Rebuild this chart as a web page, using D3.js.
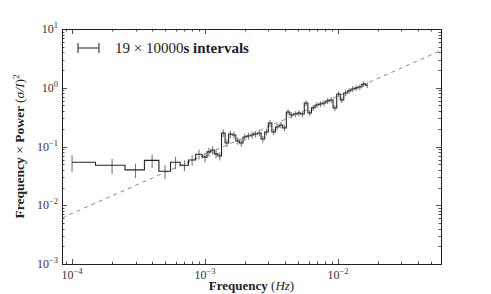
<!DOCTYPE html>
<html>
<head>
<meta charset="utf-8">
<script src="https://cdn.jsdelivr.net/npm/d3@7"></script>
<style>
  body { margin: 0; background: #fff; }
  text { font-family: "Liberation Serif", "DejaVu Serif", serif; fill: #222; }
</style>
</head>
<body>
<div id="svgContainer"></div>
<script>
//Globals
var width = 491;
var height = 294;
var plotLeft = 62, plotRight = 441, plotTop = 29, plotBottom = 264;

// power spectrum bins (Hz) and frequency x power values
var freq = [1e-4, 2e-4, 3e-4, 4e-4, 5e-4, 6e-4, 7e-4, 8e-4, 9e-4, 1e-3,
    1.07e-3, 1.14e-3, 1.21e-3, 1.29e-3, 1.37e-3, 1.46e-3, 1.55e-3, 1.65e-3, 1.76e-3, 1.87e-3,
    1.99e-3, 2.12e-3, 2.26e-3, 2.40e-3, 2.56e-3, 2.72e-3, 2.90e-3, 3.08e-3, 3.28e-3, 3.49e-3,
    3.72e-3, 3.96e-3, 4.21e-3, 4.48e-3, 4.77e-3, 5.08e-3, 5.40e-3, 5.75e-3, 6.12e-3, 6.51e-3,
    6.93e-3, 7.38e-3, 7.85e-3, 8.36e-3, 8.89e-3, 9.47e-3, 1.01e-2, 1.07e-2, 1.14e-2, 1.21e-2,
    1.29e-2, 1.37e-2, 1.46e-2, 1.56e-2, 1.66e-2];
var power = [0.054, 0.048, 0.040, 0.058, 0.038, 0.054, 0.048, 0.059, 0.074, 0.066,
    0.081, 0.087, 0.075, 0.069, 0.170, 0.115, 0.163, 0.157, 0.124, 0.115,
    0.145, 0.151, 0.157, 0.163, 0.170, 0.134, 0.177, 0.251, 0.177, 0.215,
    0.232, 0.206, 0.386, 0.343, 0.357, 0.371, 0.357, 0.550, 0.371, 0.452,
    0.508, 0.529, 0.550, 0.595, 0.618, 0.452, 0.783, 0.618, 0.815, 0.881,
    0.952, 0.990, 1.03, 1.16, 1.11];
var powerErr = [0.017, 0.014, 0.011, 0.015, 0.010, 0.013, 0.010, 0.012, 0.014, 0.012,
    0.014, 0.014, 0.012, 0.011, 0.026, 0.017, 0.024, 0.022, 0.017, 0.016,
    0.020, 0.020, 0.021, 0.021, 0.022, 0.017, 0.022, 0.031, 0.022, 0.026,
    0.028, 0.025, 0.046, 0.040, 0.042, 0.043, 0.041, 0.063, 0.042, 0.051,
    0.057, 0.059, 0.061, 0.066, 0.068, 0.050, 0.086, 0.068, 0.089, 0.096,
    0.104, 0.108, 0.112, 0.126, 0.120];

// reference power law (dashed line) end points
var modelFreq = [8.4e-5, 0.0595];
var modelPower = [0.0061, 4.3];

var xMajor = [1e-4, 1e-3, 1e-2];
var xMajorExp = ["\u22124", "\u22123", "\u22122"];
var yMajor = [1e-3, 1e-2, 1e-1, 1, 10];
var yMajorExp = ["\u22123", "\u22122", "\u22121", "0", "1"];

var legendText = "19 \u00d7 10000";
var legendBold = "s intervals";

var x = d3.scaleLog().domain([8.4e-5, 0.0595]).range([plotLeft, plotRight]);
var y = d3.scaleLog().domain([1e-3, 10]).range([plotBottom, plotTop]);

var svgContainer = d3.select("#svgContainer")
    .append("svg")
    .attr("width", width)
    .attr("height", height);

function minorTicks(lo, hi) {
    var out = [];
    for (var e = lo; e <= hi; e++) {
        for (var m = 2; m <= 9; m++) {
            out.push(m * Math.pow(10, e));
        }
    }
    return out;
}

var xMinor = minorTicks(-5, -2).filter(function (d) { return d > x.domain()[0] && d < x.domain()[1]; });
var yMinor = minorTicks(-3, 0);

// tick marks on all four sides, pointing inward
var ticks = svgContainer.append("g").attr("stroke", "#222").attr("stroke-width", 0.8);

function drawXTicks(values, len) {
    values.forEach(function (d) {
        var px = Math.round(x(d)) + 0.5;
        ticks.append("line").attr("x1", px).attr("x2", px).attr("y1", plotBottom).attr("y2", plotBottom - len);
        ticks.append("line").attr("x1", px).attr("x2", px).attr("y1", plotTop).attr("y2", plotTop + len);
    });
}
function drawYTicks(values, len) {
    values.forEach(function (d) {
        var py = Math.round(y(d)) + 0.5;
        ticks.append("line").attr("y1", py).attr("y2", py).attr("x1", plotLeft).attr("x2", plotLeft + len);
        ticks.append("line").attr("y1", py).attr("y2", py).attr("x1", plotRight).attr("x2", plotRight - len);
    });
}
drawXTicks(xMajor, 5);
drawXTicks(xMinor, 2.5);
drawYTicks(yMajor, 5);
drawYTicks(yMinor, 2.5);

// dashed model line
svgContainer.append("line")
    .attr("x1", x(modelFreq[0]))
    .attr("y1", y(modelPower[0]))
    .attr("x2", x(modelFreq[1]))
    .attr("y2", y(modelPower[1]))
    .attr("stroke", "#888")
    .attr("stroke-width", 1)
    .attr("stroke-dasharray", "4,4");

// error bars
svgContainer.append("g")
    .selectAll("line")
    .data(freq)
    .enter()
    .append("line")
    .attr("x1", function (d) { return x(d); })
    .attr("x2", function (d) { return x(d); })
    .attr("y1", function (d, i) { return y(power[i] + powerErr[i]); })
    .attr("y2", function (d, i) { return y(power[i] - powerErr[i]); })
    .attr("stroke", "#777")
    .attr("stroke-width", 1.1);

// steps-mid line
var stepPts = [];
freq.forEach(function (f, i) {
    var left = i === 0 ? f : (freq[i - 1] + f) / 2;
    var right = i === freq.length - 1 ? f : (f + freq[i + 1]) / 2;
    stepPts.push([x(left), y(power[i])]);
    stepPts.push([x(right), y(power[i])]);
});
svgContainer.append("path")
    .attr("d", d3.line()(stepPts))
    .attr("fill", "none")
    .attr("stroke", "#222")
    .attr("stroke-width", 1.1);

// frame
svgContainer.append("rect")
    .attr("x", plotLeft + 0.5)
    .attr("y", plotTop + 0.5)
    .attr("width", plotRight - plotLeft)
    .attr("height", plotBottom - plotTop)
    .attr("fill", "none")
    .attr("stroke", "#222")
    .attr("stroke-width", 1);

// tick labels
xMajor.forEach(function (d, i) {
    var t = svgContainer.append("text")
        .attr("x", x(d))
        .attr("y", 279)
        .attr("text-anchor", "middle")
        .style("font-size", "12px")
        .style("fill", "#333");
    t.append("tspan").text("10");
    t.append("tspan").attr("dy", -5).style("font-size", "8.5px").text(xMajorExp[i]);
});
yMajor.forEach(function (d, i) {
    var t = svgContainer.append("text")
        .attr("x", 58)
        .attr("y", y(d) + 4)
        .attr("text-anchor", "end")
        .style("font-size", "12px")
        .style("fill", "#333");
    t.append("tspan").text("10");
    t.append("tspan").attr("dy", -5).style("font-size", "8.5px").text(yMajorExp[i]);
});

// axis labels
var xl = svgContainer.append("text")
    .attr("x", (plotLeft + plotRight) / 2)
    .attr("y", 290)
    .attr("text-anchor", "middle")
    .style("font-size", "13px");
xl.append("tspan").style("font-weight", "bold").text("Frequency ");
xl.append("tspan").text("(");
xl.append("tspan").style("font-style", "italic").text("Hz");
xl.append("tspan").text(")");

var yl = svgContainer.append("text")
    .attr("transform", "translate(24," + ((plotTop + plotBottom) / 2) + ") rotate(-90)")
    .attr("text-anchor", "middle")
    .style("font-size", "13.5px");
yl.append("tspan").style("font-weight", "bold").text("Frequency");
yl.append("tspan").text(" \u00d7 ");
yl.append("tspan").style("font-weight", "bold").text("Power ");
yl.append("tspan").text("(");
yl.append("tspan").style("font-style", "italic").text("\u03c3/I");
yl.append("tspan").text(")");
yl.append("tspan").attr("dy", -5).style("font-size", "9px").text("2");

// legend
var lg = svgContainer.append("g").attr("stroke", "#444").attr("stroke-width", 1.2);
lg.append("line").attr("x1", 78).attr("x2", 99).attr("y1", 48).attr("y2", 48);
lg.append("line").attr("x1", 78).attr("x2", 78).attr("y1", 43).attr("y2", 53);
lg.append("line").attr("x1", 99).attr("x2", 99).attr("y1", 43).attr("y2", 53);

var lt = svgContainer.append("text")
    .attr("x", 115)
    .attr("y", 53)
    .style("font-size", "15px");
lt.append("tspan").text(legendText);
lt.append("tspan").style("font-weight", "bold").text(legendBold);
</script>
</body>
</html>
